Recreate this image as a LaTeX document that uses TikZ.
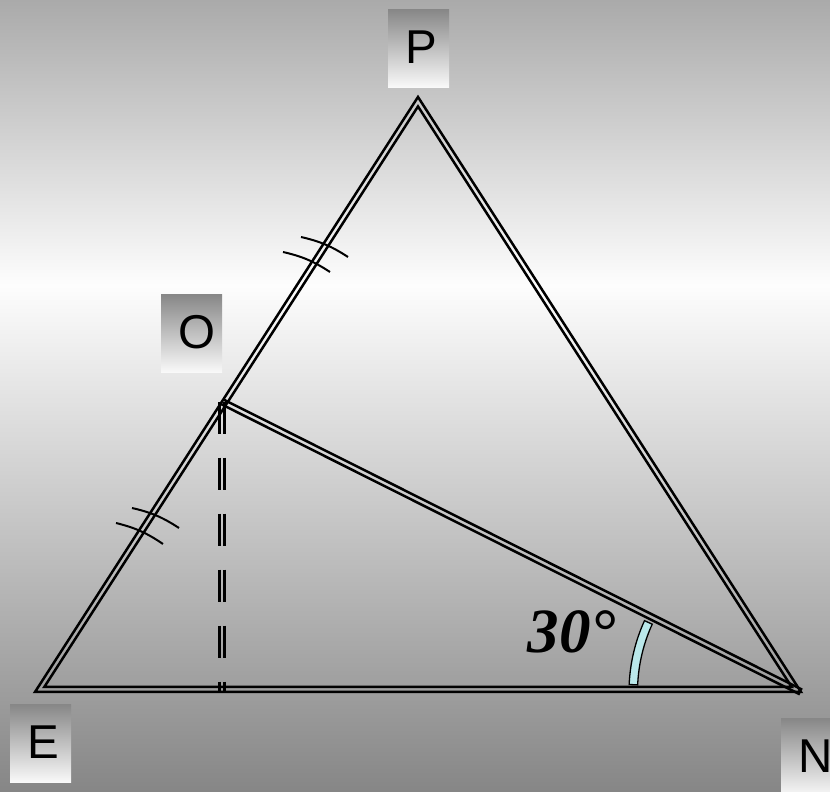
\documentclass[tikz,border=0pt]{standalone}
\usepackage{fontspec}
\setmainfont{Liberation Serif}
\setsansfont{Liberation Sans}
\usetikzlibrary{calc}

\definecolor{fondoarriba}{RGB}{170,170,170}
\definecolor{fondoclaro}{RGB}{253,253,253}
\definecolor{fondoabajo}{RGB}{134,134,134}
\definecolor{cajaarriba}{RGB}{136,136,136}
\definecolor{cajaabajo}{RGB}{250,250,250}
\definecolor{arcoceleste}{RGB}{186,232,234}

% Caja degradada con la letra del vértice
\newcommand{\etiqueta}[4]{%
    \shade[top color=cajaarriba,bottom color=cajaabajo]
        (#2,#3) rectangle ++(61,78);
    \node[anchor=base west,inner sep=0pt,
          font=\sffamily\fontsize{47.5}{50}\selectfont] (#1)
        at (#2+17.5,#3+24) {#4};
}

\begin{document}
\begin{tikzpicture}[x=1pt,y=1pt,line join=miter]
        % Fondo degradado
        \shade[top color=fondoarriba,bottom color=fondoclaro]
            (0,507) rectangle (830,792);
        \shade[top color=fondoclaro,bottom color=fondoabajo]
            (0,0) rectangle (830,507);
        \useasboundingbox (0,0) rectangle (830,792);

        % Etiquetas de los vértices
        \etiqueta{lP}{388}{704}{P}
        \etiqueta{lO}{161}{419}{O}
        \etiqueta{lE}{10}{9}{E}
        \etiqueta{lN}{781}{-5}{N}

        % Vértices
        \coordinate (E) at (35,100);
        \coordinate (P) at (418,695);
        \coordinate (N) at (801,100);
        \coordinate (I) at (418,308.95);
        \coordinate (O) at ($(E)!0.488!(P)$);
        \coordinate (H) at (O |- E);

        % Triángulo con trazo doble
        \draw[line width=2.5pt] (E) -- (P) -- (N) -- cycle;
        \draw[line width=2.5pt]
            ($(I)!0.9755!(E)$) -- ($(I)!0.9755!(P)$) -- ($(I)!0.9755!(N)$) -- cycle;

        % Segmento ON
        \draw[line width=2.5pt] ($(O)!2.6pt!90:(N)$) -- ($(N)!2.6pt!-90:(O)$);
        \draw[line width=2.5pt] ($(O)!2.6pt!-90:(N)$) -- ($(N)!2.6pt!90:(O)$);
        \draw[line width=1.5pt] ($(O)!2.6pt!90:(N)$) -- ($(O)!2.6pt!-90:(N)$);

        % Altura desde O, discontinua
        \draw[line width=2.5pt,dash pattern=on 32pt off 24pt]
            ($(O)+(-2.6,0)$) -- ($(H)+(-2.6,0)$);
        \draw[line width=2.5pt,dash pattern=on 32pt off 24pt]
            ($(O)+(2.6,0)$) -- ($(H)+(2.6,0)$);

        % Marcas de igualdad EO = OP
        \draw[line width=2pt] (301,555) to[bend left=10] (348,535);
        \draw[line width=2pt] (283,540) to[bend left=10] (330,520);
        \draw[line width=2pt] (132,284) to[bend left=10] (179,264);
        \draw[line width=2pt] (116,269) to[bend left=10] (163,248);

        % Ángulo en N
        \filldraw[fill=arcoceleste,draw=black,line width=1.3pt]
            ($(N)+(177.5:172)$) arc[start angle=177.5,end angle=155.5,radius=172]
            -- ($(N)+(155.5:163.5)$) arc[start angle=155.5,end angle=177.5,radius=163.5]
            -- cycle;
        \node[font=\fontsize{63}{63}\selectfont\bfseries\itshape] (ang)
            at (572,160) {30°};
    \end{tikzpicture}
\end{document}
